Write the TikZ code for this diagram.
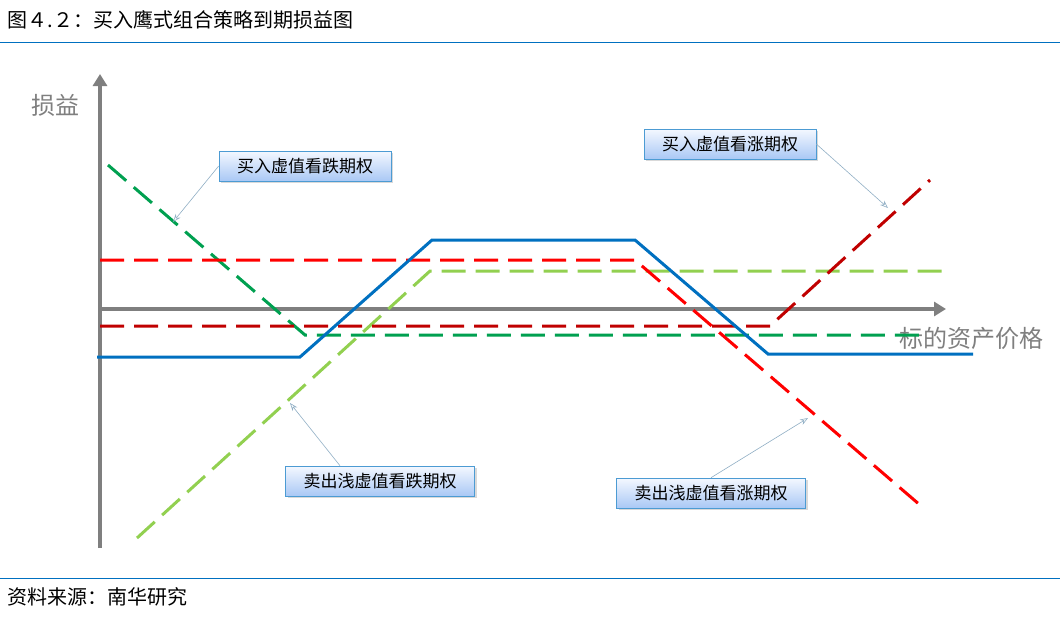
\documentclass[tikz,border=0pt]{standalone}
\usepackage{fontspec}
\newfontfamily\cjk{Noto Sans CJK SC}
\usetikzlibrary{arrows.meta,shadows}
\definecolor{dgreen}{HTML}{00A050}
\definecolor{lgreen}{HTML}{92D050}
\definecolor{dred}{HTML}{C00000}
\definecolor{lblue}{HTML}{0070C0}
\definecolor{axisg}{HTML}{7F7F7F}
\definecolor{boxtop}{HTML}{F4F8FF}
\definecolor{boxbot}{HTML}{A9C8F5}
\tikzset{
 curve/.style={line width=3pt,dash pattern=on 24pt off 10pt},
 lbl/.style={draw=lblue!70,line width=0.6pt,top color=boxtop,bottom color=boxbot,minimum height=30pt,inner xsep=18pt,font=\cjk\fontsize{17}{17}\selectfont,drop shadow={shadow xshift=2pt,shadow yshift=-2pt,opacity=0.3}},
 pt/.style={-{Stealth[open,length=8pt,width=6pt]},draw=lblue!45!gray!60,line width=0.6pt},
 axis/.style={line width=4pt,draw=axisg,-{Triangle[length=12pt,width=14pt]}}
}
\begin{document}
\begin{tikzpicture}[x=1pt,y=-1pt]
\useasboundingbox (0,0) rectangle (1060,616);
\node[anchor=west,font=\cjk\fontsize{20}{20}\selectfont] (title) at (4,20) {图４.２：买入鹰式组合策略到期损益图};
\draw[lblue,line width=1pt] (0,42) -- (1060,42);
\draw[lblue,line width=1pt] (0,578) -- (1060,578);
\node[anchor=west,font=\cjk\fontsize{20}{20}\selectfont] (src) at (4,597) {资料来源：南华研究};
% axes
\coordinate (yb) at (100,548); \coordinate (yt) at (100,74);
\coordinate (xl) at (100,309); \coordinate (xr) at (946,309);
\draw[axis] (yb) -- (yt);
\draw[axis] (xl) -- (xr);
\node[text=axisg,font=\cjk\fontsize{24}{24}\selectfont] (ylab) at (55,105) {损益};
\node[text=axisg,font=\cjk\fontsize{24}{24}\selectfont] (xlab) at (971,338) {标的资产价格};
% curves
\draw[curve,dgreen] (108,165) -- (305,335) -- (920,335);
\draw[curve,lgreen] (137,538) -- (430,271) -- (945,271);
\draw[curve,red] (100,260) -- (635,260) -- (920,505);
\draw[curve,dred] (100,326) -- (770,326) -- (930,180);
\draw[line width=3pt,lblue] (97,357) -- (300,357) -- (432,240) -- (635,240) -- (768,354) -- (973,354);
% labels
\node[lbl] (b1) at (305,166) {买入虚值看跌期权};
\node[lbl] (b2) at (730,144) {买入虚值看涨期权};
\node[lbl] (b3) at (380,481) {卖出浅虚值看跌期权};
\node[lbl] (b4) at (711,493) {卖出浅虚值看涨期权};
\coordinate (t1) at (173,222); \coordinate (t2) at (888,208);
\coordinate (t3) at (290,403); \coordinate (t4) at (808,418);
\draw[pt] (b1.west) -- (t1);
\draw[pt] (b2.east) -- (t2);
\draw[pt] ([xshift=-40pt]b3.north) -- (t3);
\draw[pt] (b4.north) -- (t4);
\end{tikzpicture}
\end{document}
